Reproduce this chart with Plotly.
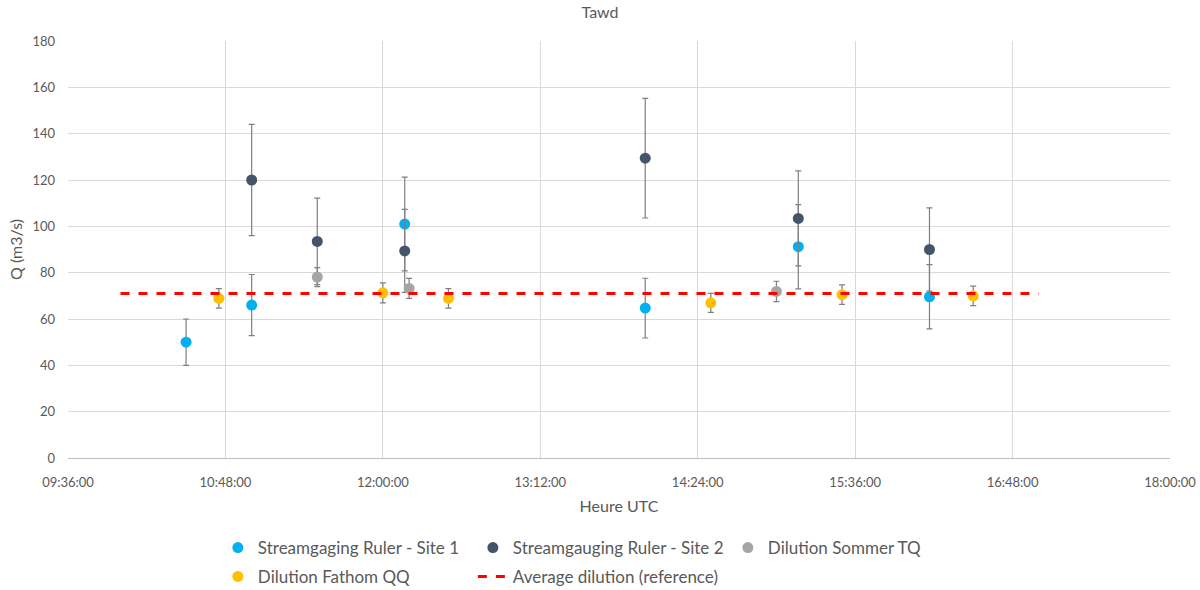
import plotly.graph_objects as go

day = "2023-06-15 "

# Streamgaging Ruler - Site 1
s1_time = ["10:30", "11:00", "12:10", "14:00", "15:10", "16:10"]
s1_q = [50, 66, 101, 64.7, 91.2, 69.6]
s1_err = [10, 13.2, 20.2, 12.9, 18.2, 13.9]

# Streamgauging Ruler - Site 2
s2_time = ["11:00", "11:30", "12:10", "14:00", "15:10", "16:10"]
s2_q = [120, 93.5, 89.4, 129.4, 103.4, 90.0]
s2_err = [24, 18.7, 17.9, 25.8, 20.5, 18.0]

# Dilution Sommer TQ
tq_time = ["11:30", "12:12", "15:00"]
tq_q = [78.1, 73.2, 71.9]
tq_err = [4.1, 4.3, 4.4]

# Dilution Fathom QQ
qq_time = ["10:45", "12:00", "12:30", "14:30", "15:30", "16:30"]
qq_q = [68.9, 71.3, 68.9, 67.0, 70.5, 70.0]
qq_err = [4.2, 4.3, 4.2, 4.1, 4.2, 4.2]

# Average dilution (reference)
avg_time = ["10:00", "17:00"]
avg_q = [71.0, 71.0]

xticks = ["09:36", "10:48", "12:00", "13:12", "14:24", "15:36", "16:48", "18:00"]

def tx(lst):
    return [day + t + ":00" for t in lst]

font_fam = "Lato, 'Open Sans', sans-serif"
txt_col = "#595959"
err_col = "#7F7F7F"

fig = go.Figure()

def pts(name, t, q, e, color, legend):
    fig.add_trace(go.Scatter(
        x=tx(t), y=q, mode="markers", name=name,
        marker=dict(color=color, size=11),
        error_y=dict(type="data", array=e, visible=True, color=err_col,
                     thickness=1.2, width=3),
        legend=legend,
    ))

pts("Streamgaging Ruler - Site 1", s1_time, s1_q, s1_err, "#00B0F0", "legend")
pts("Streamgauging Ruler - Site 2", s2_time, s2_q, s2_err, "#44546A", "legend")
pts("Dilution Sommer TQ", tq_time, tq_q, tq_err, "#A5A5A5", "legend")
pts("Dilution Fathom QQ", qq_time, qq_q, qq_err, "#FFC000", "legend2")

fig.add_trace(go.Scatter(
    x=tx(avg_time), y=avg_q, mode="lines", name="Average dilution (reference)",
    line=dict(color="#FF0000", width=3, dash="dash"),
    legend="legend2",
))

leg_common = dict(
    orientation="h", xanchor="left", yanchor="middle",
    font=dict(family=font_fam, size=17, color=txt_col),
    bgcolor="rgba(0,0,0,0)", entrywidth=210, entrywidthmode="pixels",
    itemwidth=30,
)

fig.update_layout(
    width=1200, height=590,
    margin=dict(l=68, r=30, t=41, b=132, autoexpand=False),
    paper_bgcolor="white", plot_bgcolor="white",
    font=dict(family=font_fam, color=txt_col),
    title=dict(text="Tawd", x=0.5, xanchor="center", y=1 - 12 / 590, yanchor="middle",
               font=dict(family=font_fam, size=16, color=txt_col), automargin=False),
    xaxis=dict(
        type="date", automargin=False,
        range=[day + xticks[0] + ":00", day + xticks[-1] + ":00"],
        tickmode="array",
        tickvals=tx(xticks),
        ticktext=[t + ":00" for t in xticks],
        showgrid=True, gridcolor="#D9D9D9", gridwidth=1,
        showline=True, linecolor="#BFBFBF", linewidth=1,
        zeroline=False, ticks="", ticklabelstandoff=12,
        tickfont=dict(family=font_fam, size=13, color=txt_col),
        title=dict(text="Heure UTC", font=dict(family=font_fam, size=16, color=txt_col), standoff=12),
    ),
    yaxis=dict(
        range=[0, 180], dtick=20, tick0=0, automargin=False,
        showgrid=True, gridcolor="#D9D9D9", gridwidth=1,
        zeroline=False, showline=False, ticks="", ticklabelstandoff=12,
        tickfont=dict(family=font_fam, size=13, color=txt_col),
        title=dict(text="Q (m3/s)", font=dict(family=font_fam, size=16, color=txt_col), standoff=5),
    ),
    legend=dict(x=0.136, y=-0.216, **leg_common),
    legend2=dict(x=0.136, y=-0.285, **leg_common),
)

fig.write_html("out.html", config={"displayModeBar": False},
               post_script="document.body.style.margin='0';")
